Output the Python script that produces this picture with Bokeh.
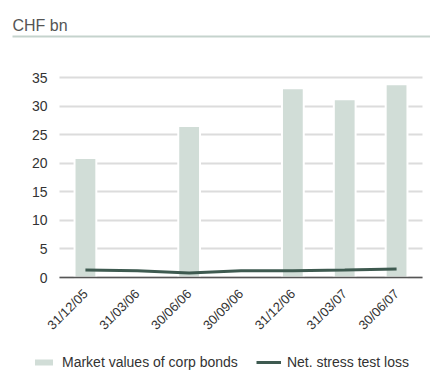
import math
from bokeh.plotting import figure
from bokeh.models import (ColumnDataSource, Range1d, Legend, LegendItem, FixedTicker, LinearAxis,
                          Label, BoxAnnotation)
from bokeh.embed import file_html
from bokeh.resources import INLINE

categories = ["31/12/05", "31/03/06", "30/06/06", "30/09/06", "31/12/06", "31/03/07", "30/06/07"]
corp_bonds = [20.9, float("nan"), 26.5, float("nan"), 33.1, 31.2, 33.8]
stress_loss = [1.3, 1.2, 0.8, 1.2, 1.2, 1.3, 1.5]
y_ticks = [0, 5, 10, 15, 20, 25, 30, 35]
unit_label = "CHF bn"
series_names = ["Market values of corp bonds", "Net. stress test loss"]

FONT = "Liberation Sans"
W, H = 430, 372
# plot area in canvas pixels
PL, PR, PT_Y35, PB = 59, 422, 77, 277
UX = (PR - PL) / len(categories)      # px per category
UY = (PB - PT_Y35) / 35.0             # px per unit


def px_to_x(px):
    return -0.5 + (px - PL) / UX


def py_to_y(py):
    return (PB - py) / UY


p = figure(width=W, height=H, x_range=Range1d(px_to_x(0), px_to_x(W)),
           y_range=Range1d(py_to_y(H), py_to_y(0)),
           output_backend="svg", toolbar_location=None,
           x_axis_location=None, y_axis_location=None, min_border=0)
p.outline_line_color = None
p.background_fill_color = "white"
p.border_fill_color = "white"
p.grid.visible = False

xs = list(range(len(categories)))
src = ColumnDataSource(dict(x=xs, bonds=corp_bonds, loss=stress_loss))

# y axis inside the canvas; its long inward ticks act as the gridlines
yaxis = LinearAxis(fixed_location=-0.5, ticker=FixedTicker(ticks=y_ticks), level="underlay")
yaxis.axis_line_color = None
yaxis.major_tick_in = int(PR - PL)
yaxis.major_tick_out = 0
yaxis.major_tick_line_color = "#dcdcdc"
yaxis.major_tick_line_width = 2
yaxis.minor_tick_line_color = None
yaxis.major_label_text_font = FONT
yaxis.major_label_text_font_size = "14px"
yaxis.major_label_text_color = "#333333"
yaxis.major_label_standoff = 12
p.add_layout(yaxis, "left")

bars = p.vbar(x="x", top="bonds", width=0.42, source=src, fill_color="#d1ddd7",
              line_color="white", line_width=2)
line = p.line(x="x", y="loss", source=src, line_color="#3e5a50", line_width=3)

xaxis = LinearAxis(fixed_location=0, bounds=(-0.5, len(categories) - 0.5),
                   ticker=FixedTicker(ticks=xs),
                   major_label_overrides={i: c for i, c in enumerate(categories)})
xaxis.axis_line_color = "#555555"
xaxis.axis_line_width = 1.5
xaxis.major_tick_line_color = None
xaxis.minor_tick_line_color = None
xaxis.major_label_orientation = math.pi / 4
xaxis.major_label_text_font = FONT
xaxis.major_label_text_font_size = "13px"
xaxis.major_label_text_color = "#333333"
xaxis.major_label_standoff = 8
p.add_layout(xaxis, "below")

p.add_layout(Label(x=px_to_x(12), y=py_to_y(25), text=unit_label, text_font=FONT,
                   text_font_size="16px", text_color="#555555", text_baseline="alphabetic"))
p.add_layout(BoxAnnotation(left=px_to_x(12), right=px_to_x(W), top=py_to_y(35), bottom=py_to_y(37),
                           fill_color="#c5d3cd", fill_alpha=1, line_color=None))

legend = Legend(items=[LegendItem(label=series_names[0], renderers=[bars]),
                       LegendItem(label=series_names[1], renderers=[line])],
                orientation="horizontal", location=(31, 2),
                label_text_font=FONT, label_text_font_size="14px", label_text_color="#333333",
                border_line_color=None, background_fill_alpha=0, glyph_width=25, glyph_height=10,
                label_height=14, spacing=18, label_standoff=6, padding=0, margin=0)
p.add_layout(legend, "center")

open("out.html", "w").write(file_html(p, INLINE))
